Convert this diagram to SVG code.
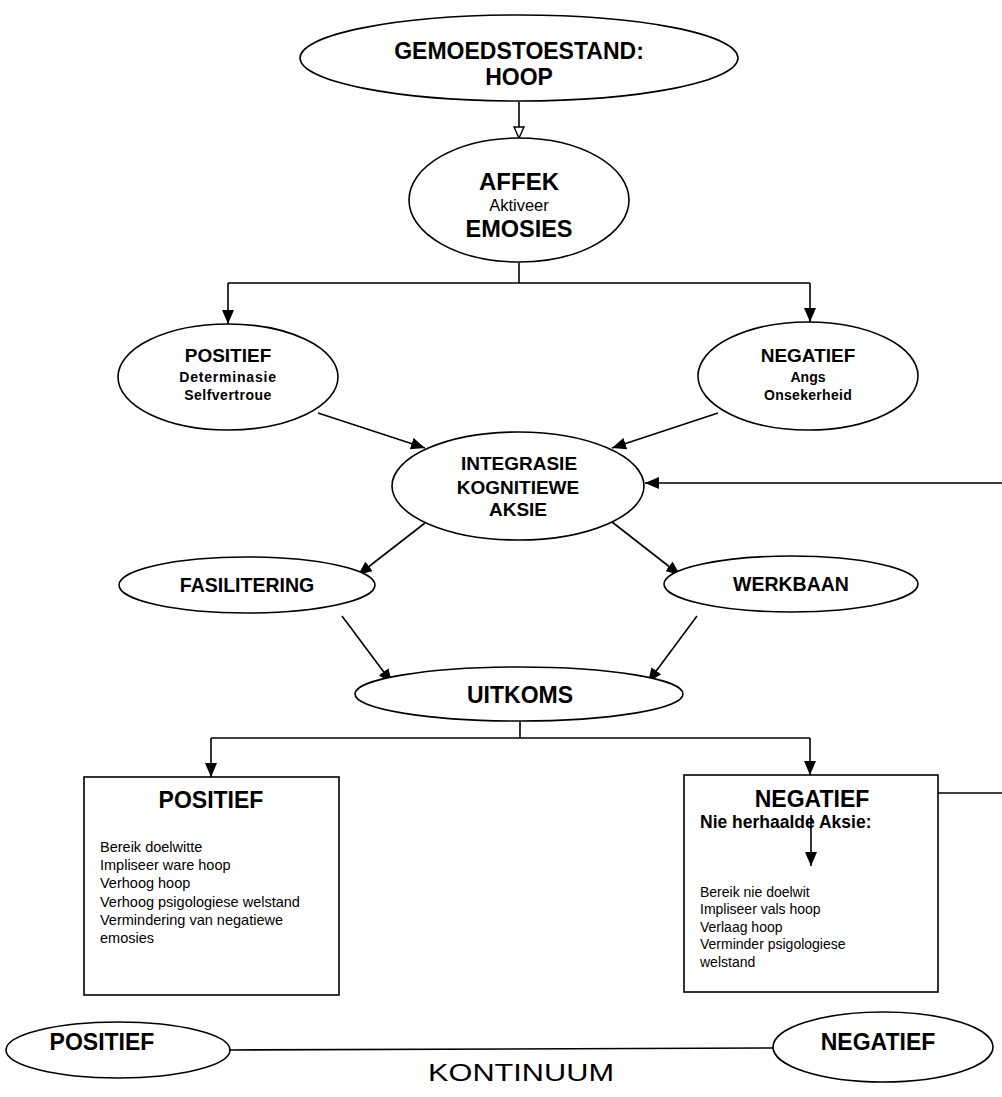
<svg xmlns="http://www.w3.org/2000/svg" width="1002" height="1097" viewBox="0 0 1002 1097">
<defs>
<style>
text{font-family:"Liberation Sans",Arial,sans-serif;fill:#000}
.b{font-weight:bold}
.c{text-anchor:middle}
.shape{fill:#fff;stroke:#000;stroke-width:1.6}
.ln{fill:none;stroke:#000;stroke-width:1.6}
.arr{marker-end:url(#ah)}
</style>
<marker id="ah" viewBox="0 0 14 12" refX="14" refY="6" markerWidth="14" markerHeight="12" markerUnits="userSpaceOnUse" orient="auto">
<path d="M0,0 L14,6 L0,12 z" fill="#000"/>
</marker>
<marker id="ho" viewBox="0 0 13 12" refX="12" refY="6" markerWidth="13" markerHeight="12" markerUnits="userSpaceOnUse" orient="auto">
<path d="M1,1 L12,6 L1,11 z" fill="#fff" stroke="#000" stroke-width="1.4"/>
</marker>
</defs>
<rect width="1002" height="1097" fill="#fff"/>

<g id="connectors">
<line class="ln" x1="519" y1="102" x2="519" y2="138" marker-end="url(#ho)"/>
<polyline class="ln" points="519,263 519,283"/>
<polyline class="ln" points="228,283 810,283"/>
<line class="ln arr" x1="228" y1="283" x2="228" y2="324"/>
<line class="ln arr" x1="810" y1="283" x2="810" y2="322"/>
<line class="ln arr" x1="318" y1="413" x2="425" y2="448"/>
<line class="ln arr" x1="718" y1="413" x2="612" y2="448"/>
<line class="ln arr" x1="1002" y1="483" x2="645" y2="483"/>
<line class="ln arr" x1="425" y1="523" x2="358" y2="575"/>
<line class="ln arr" x1="612" y1="522" x2="680" y2="575"/>
<line class="ln arr" x1="342" y1="616" x2="392" y2="683"/>
<line class="ln arr" x1="697" y1="616" x2="648" y2="682"/>
<polyline class="ln" points="520,722 520,738"/>
<polyline class="ln" points="211,738 810,738"/>
<line class="ln arr" x1="211" y1="738" x2="211" y2="777"/>
<line class="ln arr" x1="810" y1="738" x2="810" y2="775"/>
<line class="ln" x1="938" y1="793" x2="1002" y2="793"/>
<line class="ln" x1="230" y1="1050" x2="773" y2="1048"/>
</g>

<g id="gemoedstoestand">
<ellipse class="shape" cx="519" cy="58" rx="219" ry="43"/>
<text class="b c" x="519" y="59" font-size="23">GEMOEDSTOESTAND:</text>
<text class="b c" x="519" y="85" font-size="23">HOOP</text>
</g>

<g id="affek">
<ellipse class="shape" cx="519" cy="200" rx="110" ry="62"/>
<text class="b c" x="519" y="190" font-size="24">AFFEK</text>
<text class="c" x="519" y="211" font-size="16.5">Aktiveer</text>
<text class="b c" x="519" y="237" font-size="23.5">EMOSIES</text>
</g>

<g id="positief-emosie">
<ellipse class="shape" cx="228" cy="377" rx="110" ry="53"/>
<text class="b c" x="228" y="362" font-size="19">POSITIEF</text>
<text class="b c" x="228" y="382" font-size="14" letter-spacing="0.8">Determinasie</text>
<text class="b c" x="228" y="400" font-size="14" letter-spacing="0.5">Selfvertroue</text>
</g>

<g id="negatief-emosie">
<ellipse class="shape" cx="808" cy="376" rx="110" ry="54"/>
<text class="b c" x="808" y="362" font-size="19">NEGATIEF</text>
<text class="b c" x="808" y="382" font-size="14">Angs</text>
<text class="b c" x="808" y="400" font-size="14" letter-spacing="0.3">Onsekerheid</text>
</g>

<g id="integrasie">
<ellipse class="shape" cx="518" cy="486" rx="126" ry="54"/>
<text class="b c" x="519" y="470" font-size="19">INTEGRASIE</text>
<text class="b c" x="518" y="494" font-size="19">KOGNITIEWE</text>
<text class="b c" x="518" y="516" font-size="19">AKSIE</text>
</g>

<g id="fasilitering">
<ellipse class="shape" cx="247" cy="585" rx="128" ry="28"/>
<text class="b c" x="247" y="592" font-size="19.5">FASILITERING</text>
</g>

<g id="werkbaan">
<ellipse class="shape" cx="791" cy="584" rx="127" ry="28"/>
<text class="b c" x="791" y="591" font-size="19.5">WERKBAAN</text>
</g>

<g id="uitkoms">
<ellipse class="shape" cx="519" cy="694" rx="164" ry="27"/>
<text class="b c" x="520" y="703" font-size="23">UITKOMS</text>
</g>

<g id="positief-uitkoms">
<rect class="shape" x="84" y="777" width="255" height="218"/>
<text class="b c" x="211" y="808" font-size="23">POSITIEF</text>
<text x="100" y="852" font-size="14.5">Bereik doelwitte</text>
<text x="100" y="870" font-size="14.5">Impliseer ware hoop</text>
<text x="100" y="888" font-size="14.5">Verhoog hoop</text>
<text x="100" y="907" font-size="14.5">Verhoog psigologiese welstand</text>
<text x="100" y="925" font-size="14.5">Vermindering van negatiewe</text>
<text x="100" y="943" font-size="14.5">emosies</text>
</g>

<g id="negatief-uitkoms">
<rect class="shape" x="684" y="775" width="254" height="217"/>
<text class="b c" x="812" y="807" font-size="23">NEGATIEF</text>
<text class="b" x="700" y="828" font-size="17.5">Nie herhaalde Aksie:</text>
<line class="ln arr" x1="811" y1="815" x2="811" y2="866"/>
<text x="700" y="897" font-size="14">Bereik nie doelwit</text>
<text x="700" y="914" font-size="14">Impliseer vals hoop</text>
<text x="700" y="932" font-size="14">Verlaag hoop</text>
<text x="700" y="949" font-size="14">Verminder psigologiese</text>
<text x="700" y="967" font-size="14">welstand</text>
</g>

<g id="kontinuum-positief">
<ellipse class="shape" cx="118" cy="1050" rx="112" ry="28"/>
<text class="b c" x="102" y="1050" font-size="23">POSITIEF</text>
</g>

<g id="kontinuum-negatief">
<ellipse class="shape" cx="883" cy="1047" rx="110" ry="35"/>
<text class="b c" x="878" y="1050" font-size="23">NEGATIEF</text>
</g>

<text class="c" x="521" y="1081" font-size="23" textLength="186" lengthAdjust="spacingAndGlyphs">KONTINUUM</text>
</svg>
